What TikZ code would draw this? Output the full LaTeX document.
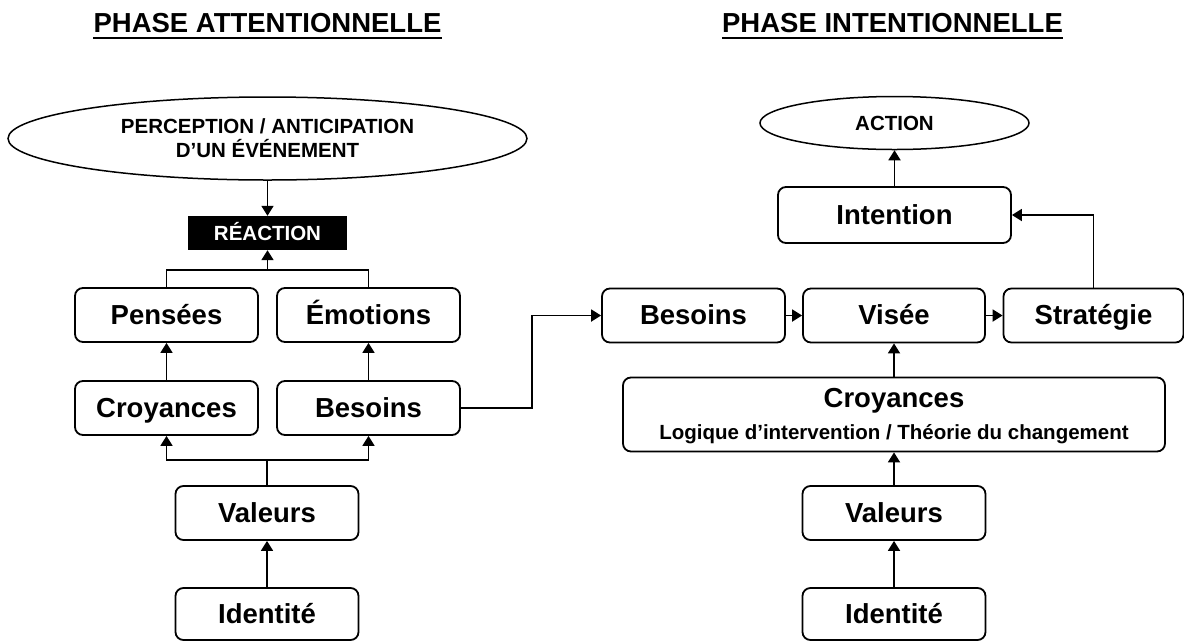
\documentclass[tikz,border=0pt]{standalone}
\usepackage{fontspec}
\setmainfont{Liberation Sans}
\usetikzlibrary{shapes.geometric,arrows.meta}
\tikzset{
  box/.style={draw, line width=1.8pt, rounded corners=8pt, inner sep=0pt, minimum width=183pt, minimum height=54pt, text height=19.5pt, text depth=1pt, font=\fontsize{27.5}{31}\selectfont\bfseries},
  ell/.style={draw, ellipse, line width=1.5pt, inner sep=0pt, align=center, font=\fontsize{20.5}{24}\selectfont\bfseries},
  ttl/.style={inner sep=0pt, font=\fontsize{27.5}{32}\selectfont\bfseries},
  arr/.style={line width=1.8pt, -{Triangle[length=10pt,width=12pt]}},
  ln/.style={line width=1.8pt},
}
\begin{document}
\begin{tikzpicture}[x=1pt,y=-1pt]
\useasboundingbox[fill=white] (0,0) rectangle (1184,641);
% titles
\node[ttl] (t1) at (267.5,23) {PHASE ATTENTIONNELLE};
\node[ttl] (t2) at (892.5,23) {PHASE INTENTIONNELLE};
\draw[line width=2pt] ([yshift=-5.5pt]t1.base west) -- ([yshift=-5.5pt]t1.base east);
\draw[line width=2pt] ([yshift=-5.5pt]t2.base west) -- ([yshift=-5.5pt]t2.base east);
% left side
\node[ell, minimum width=519pt, minimum height=83pt] (per) at (267.5,138.5) {PERCEPTION / ANTICIPATION\\D’UN ÉVÉNEMENT};
\node[fill=black, text=white, inner sep=0pt, minimum width=159pt, minimum height=34pt, text height=15pt, text depth=0pt, font=\fontsize{20.5}{24}\selectfont\bfseries] (reac) at (267.5,233) {RÉACTION};
\node[box] (pen) at (166.5,315) {Pensées};
\node[box] (emo) at (368.5,315) {Émotions};
\node[box] (cro) at (166.5,408) {Croyances};
\node[box] (bes) at (368.5,408) {Besoins};
\node[box] (val) at (267,513) {Valeurs};
\node[box, minimum height=52pt] (ide) at (267,614) {Identité};
\coordinate (j1) at (267.5,270);
\coordinate (j2) at (267,460);
\draw[arr] (per.south) -- (reac.north);
\draw[ln] (pen.north) |- (j1) -| (emo.north);
\draw[arr] (j1) -- (reac.south);
\draw[arr] (cro.north) -- (pen.south);
\draw[arr] (bes.north) -- (emo.south);
\draw[ln] (val.north) -- (j2);
\draw[arr] (j2) -| (cro.south);
\draw[arr] (j2) -| (bes.south);
\draw[arr] (ide.north) -- (val.south);
% right side
\node[ell, minimum width=269pt, minimum height=53pt] (act) at (894.5,123) {ACTION};
\node[box, minimum width=233pt, minimum height=56pt] (int) at (894.5,215) {Intention};
\node[box] (br) at (693.5,315.5) {Besoins};
\node[box, minimum width=182pt] (vis) at (894,315.5) {Visée};
\node[box, minimum width=180pt] (str) at (1093.5,315.5) {Stratégie};
\node[box, minimum width=542pt, minimum height=74pt, text height=, text depth=, align=center] (cr2) at (894,414.5) {\rule{0pt}{22pt}Croyances\\[1pt]{\fontsize{20.5}{24}\selectfont Logique d’intervention / Théorie du changement}};
\node[box] (va2) at (894,513) {Valeurs};
\node[box, minimum height=52pt] (id2) at (894,614) {Identité};
\draw[arr] (int.north) -- (act.south);
\draw[arr] (br.east) -- (vis.west);
\draw[arr] (vis.east) -- (str.west);
\draw[arr] (str.north) |- (int.east);
\draw[arr] (cr2.north) -- (vis.south);
\draw[arr] (va2.north) -- (cr2.south);
\draw[arr] (id2.north) -- (va2.south);
% link
\draw[arr] (bes.east) -- ++(71,0) |- (br.west);
\end{tikzpicture}
\end{document}
